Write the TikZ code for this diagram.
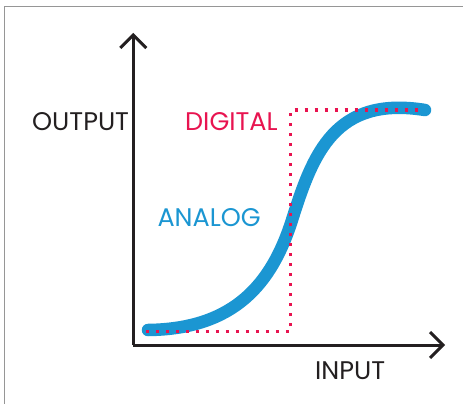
\documentclass[tikz,border=0pt]{standalone}
\usepackage{fontspec}
\setmainfont{Poppins}
\usetikzlibrary{calc}
\definecolor{axisblack}{RGB}{35,31,32}
\definecolor{analogblue}{RGB}{27,150,210}
\definecolor{digitalred}{RGB}{232,20,80}
\definecolor{framegray}{RGB}{150,150,150}
\begin{document}
\begin{tikzpicture}[x=1pt,y=-1pt,
  axisline/.style={draw=axisblack,line width=3pt},
  chevron/.style={draw=axisblack,line width=3pt,miter limit=10},
  label/.style={anchor=base west,inner sep=0pt,font=\fontsize{25.5}{25.5}\selectfont},
  analogcurve/.style={draw=analogblue,line width=12.5pt,line cap=round},
  digitalline/.style={draw=digitalred,line width=3.2pt,dash pattern=on 3.2pt off 6.8pt}]
\useasboundingbox (0,0) rectangle (463,404);
\fill[white] (0,0) rectangle (463,404);
% frame
\draw[framegray,line width=1.6pt] (4.5,404) -- (4.5,6.5) -- (463,6.5);
% axes
\coordinate (O) at (133.3,345);
\coordinate (ytip) at (133.3,35);
\coordinate (xtip) at (443,345);
\draw[axisline] (O) -- (ytip);
\draw[axisline] (O) -- (xtip);
\draw[chevron] ($(ytip)+(-13,13)$) -- (ytip) -- ($(ytip)+(13,13)$);
\draw[chevron] ($(xtip)+(-13,-13)$) -- (xtip) -- ($(xtip)+(-13,13)$);
% analog curve
\coordinate (a0) at (148,330);
\coordinate (a1) at (292,220);
\coordinate (a2) at (425,110);
\draw[analogcurve] (a0) .. controls (235,329) and (272,283) .. (a1)
  .. controls (313,153.5) and (335,95.6) .. (a2);
% digital
\coordinate (d0) at (146,331.5);
\coordinate (d1) at (290.7,331.5);
\coordinate (d2) at (290.7,110);
\coordinate (d3) at (422,110);
\draw[digitalline] (d0) -- (d1) -- (d2) -- (d3);
% labels
\node[label,text=axisblack] (output) at (32,130.7) {OUTPUT};
\node[label,text=digitalred] (digital) at (185,130.7) {DIGITAL};
\node[label,text=analogblue] (analog) at (157.3,226.7) {ANALOG};
\node[label,text=axisblack] (input) at (315,379) {INPUT};
\end{tikzpicture}
\end{document}
